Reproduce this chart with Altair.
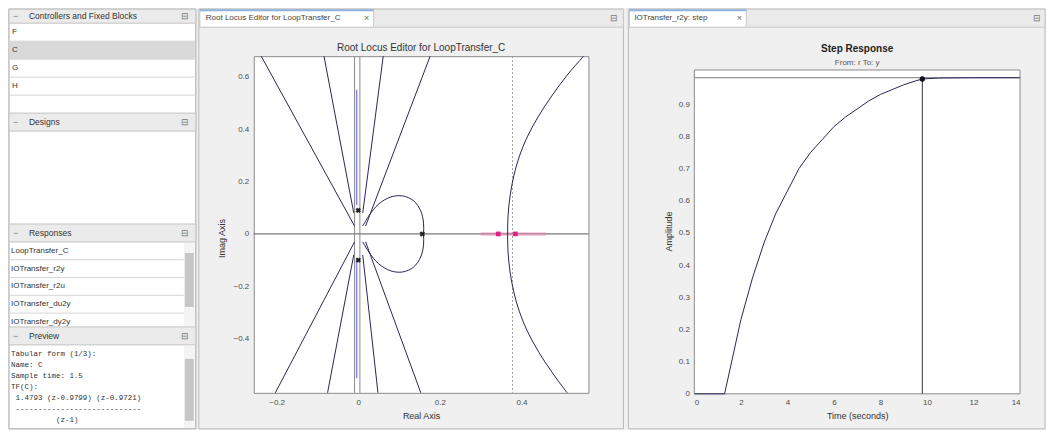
import altair as alt
import pandas as pd

FONT = "Liberation Sans"
MONO = "Liberation Mono"

# ---------------- sidebar texts ----------------
ctrl_header = "Controllers and Fixed Blocks"
ctrl_items = ["F", "C", "G", "H"]
designs_header = "Designs"
responses_header = "Responses"
response_items = ["LoopTransfer_C", "IOTransfer_r2y", "IOTransfer_r2u", "IOTransfer_du2y", "IOTransfer_dy2y"]
preview_header = "Preview"
preview_lines = ["Tabular form (1/3):", "Name: C", "Sample time: 1.5", "TF(C):",
                 " 1.4793 (z-0.9799) (z-0.9721)", " ----------------------------", "          (z-1)"]
rl_tab = "Root Locus Editor for LoopTransfer_C"
step_tab = "IOTransfer_r2y: step"

# ---------------- root locus data ----------------
rl_title = "Root Locus Editor for LoopTransfer_C"
rl_x_dom = [-0.256, 0.564]
rl_y_dom = [-0.606, 0.678]
rl_x_ticks = [-0.2, 0, 0.2, 0.4]
rl_y_ticks = [-0.4, -0.2, 0, 0.2, 0.4, 0.6]

asym_upper_x = [[-0.009, -0.278], [-0.011, -0.104], [0.011, 0.075], [0.018, 0.204]]
asym_upper_y = [[0.03, 0.792], [0.08, 0.842], [0.08, 0.842], [0.03, 0.792]]
asym_lower_x = [[-0.009, -0.266], [-0.011, -0.104], [0.011, 0.065], [0.018, 0.197]]
asym_lower_y = [[-0.03, -0.792], [-0.08, -0.842], [-0.08, -0.842], [-0.03, -0.792]]
loop_x = [0.011, 0.026, 0.050, 0.080, 0.109, 0.136, 0.153, 0.160, 0.160,
          0.160, 0.153, 0.136, 0.109, 0.080, 0.050, 0.026, 0.011]
loop_y = [0.030, 0.069, 0.114, 0.141, 0.145, 0.126, 0.088, 0.042, 0.0,
          -0.042, -0.088, -0.126, -0.145, -0.141, -0.114, -0.069, -0.030]
arc_x = [0.574, 0.552, 0.510, 0.474, 0.442, 0.415, 0.395, 0.381, 0.372, 0.367, 0.366,
         0.367, 0.372, 0.381, 0.395, 0.415, 0.442, 0.474, 0.510, 0.552, 0.574]
arc_y = [0.716, 0.678, 0.602, 0.526, 0.450, 0.373, 0.297, 0.221, 0.145, 0.069, 0.0,
         -0.069, -0.145, -0.221, -0.297, -0.373, -0.450, -0.526, -0.602, -0.678, -0.716]
blue_x = [[-0.004, -0.004], [-0.004, -0.004]]
blue_y = [[0.11, 0.55], [-0.10, -0.55]]
gray_vlines = [-0.009, 0.004]
dotted_vline = 0.378
pink_x = [0.30, 0.46]
pole_x = [0.157, 0.0, 0.0]
pole_y = [0.0, 0.09, -0.10]
cl_x = [0.343, 0.385]
cl_y = [0.0, 0.0]

# ---------------- step response data ----------------
step_title = "Step Response"
step_sub = "From: r  To: y"
step_t = [0, 1.3, 2, 2.5, 3, 3.5, 4, 4.5, 5, 5.5, 6, 6.5, 7, 7.5, 8, 8.5, 9, 9.5, 9.8, 10.5, 12, 14]
step_y = [0, 0, 0.23, 0.36, 0.47, 0.56, 0.63, 0.70, 0.75, 0.79, 0.83, 0.86, 0.885, 0.91,
          0.93, 0.945, 0.96, 0.972, 0.978, 0.981, 0.982, 0.982]
step_x_ticks = [0, 2, 4, 6, 8, 10, 12, 14]
step_y_ticks = [0, 0.1, 0.2, 0.3, 0.4, 0.5, 0.6, 0.7, 0.8, 0.9]
step_x_dom = [0, 14]
step_y_dom = [0, 1.049]
frame_top = 1.006
steady_val = 0.982
settle_t = 9.8
settle_y = 0.978

one = pd.DataFrame({"k": [0]})
LINE = "#26265a"


# ---------------- chrome helpers (GUI decoration, pixel layout) ----------------
def cbox(o, x1, y1, x2, y2, fill="transparent", stroke="transparent", sw=1):
    return alt.Chart(one).mark_rect(fill=fill, stroke=stroke, strokeWidth=sw).encode(
        x=alt.value(x1 - o[0]), x2=alt.value(x2 - o[0]),
        y=alt.value(y1 - o[1]), y2=alt.value(y2 - o[1]))


def chline(o, x1, x2, y, color="#d6d6d6"):
    return alt.Chart(one).mark_rule(color=color, strokeWidth=1).encode(
        x=alt.value(x1 - o[0]), x2=alt.value(x2 - o[0]), y=alt.value(y - o[1]))


def ctext(o, x, y, s, size=8, color="#333333", align="left", weight="normal", font=FONT):
    return alt.Chart(one).mark_text(text=s, align=align, baseline="middle", fontSize=size,
                                    color=color, fontWeight=weight, font=font).encode(
        x=alt.value(x - o[0]), y=alt.value(y - o[1]))


# ---------------- sidebar ----------------
SB = (8, 55)
HDR = "#ebebeb"
sb_layers = [cbox(SB, 8, 8, 195, 428, fill="white", stroke="#a6a6a6")]
headers = [(8, 22, ctrl_header), (112, 130, designs_header), (223, 241, responses_header),
           (326, 344, preview_header)]
for (y1, y2, name) in headers:
    sb_layers.append(cbox(SB, 8, y1, 195, y2, fill=HDR, stroke="#c4c4c4"))
    sb_layers.append(ctext(SB, 12, (y1 + y2) / 2, "−", size=9, color="#777777"))
    sb_layers.append(ctext(SB, 28, (y1 + y2) / 2, name, size=8.5, color="#333333"))
    sb_layers.append(ctext(SB, 184, (y1 + y2) / 2, "⊟", size=9, color="#777777", align="center"))
row_h = 18
sb_layers.append(cbox(SB, 9, 22 + row_h, 194, 22 + 2 * row_h, fill="#d9d9d9"))
for i, name in enumerate(ctrl_items):
    top = 22 + i * row_h
    sb_layers.append(chline(SB, 8, 195, top + row_h))
    sb_layers.append(ctext(SB, 11, top + row_h / 2, name, size=8, color="#333333"))
resp_h = 17.8
for i, name in enumerate(response_items):
    top = 241 + i * resp_h
    if i < len(response_items) - 1:
        sb_layers.append(chline(SB, 8, 183, top + resp_h))
    sb_layers.append(ctext(SB, 10, top + resp_h / 2, name, size=8, color="#333333"))
sb_layers.append(cbox(SB, 183, 242, 194, 325, fill="#f4f4f4"))
sb_layers.append(cbox(SB, 184, 252, 193, 306, fill="#c6c6c6"))
sb_layers.append(cbox(SB, 183, 345, 194, 427, fill="#f4f4f4"))
sb_layers.append(cbox(SB, 184, 358, 193, 420, fill="#c6c6c6"))
CHAR_W = 7.5 * 0.6
for i, line in enumerate(preview_lines):
    indent = (len(line) - len(line.lstrip(" "))) * CHAR_W
    sb_layers.append(ctext(SB, 10 + indent, 353 + i * 11, line.strip(), size=7.5,
                           color="#333333", font=MONO))
sidebar = alt.layer(*sb_layers).properties(width=139, height=337,
                                           view=alt.ViewBackground(stroke="transparent"))

# ---------------- root locus ----------------
RO = (253, 55)
rl_xaxis = alt.Axis(values=rl_x_ticks, format="~g", title="Real Axis", labelPadding=6,
                    titlePadding=5, zindex=1)
rl_yaxis = alt.Axis(values=rl_y_ticks, format="~g", title="Imag Axis", labelPadding=5,
                    titlePadding=6, zindex=1, titleY=182)
RXS = alt.Scale(domain=rl_x_dom, nice=False, zero=False)
RYS = alt.Scale(domain=rl_y_dom, nice=False, zero=False)


def RX(f="x"):
    return alt.X(f"{f}:Q", scale=RXS, axis=rl_xaxis)


def RY(f="y"):
    return alt.Y(f"{f}:Q", scale=RYS, axis=rl_yaxis)


rows = []
bid = 0
for xs_list, ys_list in [(asym_upper_x, asym_upper_y), (asym_lower_x, asym_lower_y)]:
    for xs, ys in zip(xs_list, ys_list):
        for i, (a, b) in enumerate(zip(xs, ys)):
            rows.append({"b": bid, "i": i, "x": a, "y": b})
        bid += 1
for xs, ys in [(loop_x, loop_y), (arc_x, arc_y)]:
    for i, (a, b) in enumerate(zip(xs, ys)):
        rows.append({"b": bid, "i": i, "x": a, "y": b})
    bid += 1
branch_df = pd.DataFrame(rows)

blue_rows = []
for k, (xs, ys) in enumerate(zip(blue_x, blue_y)):
    for i, (a, b) in enumerate(zip(xs, ys)):
        blue_rows.append({"b": k, "i": i, "x": a, "y": b})
blue_df = pd.DataFrame(blue_rows)

rl_layers = [
    cbox(RO, 198, 8, 623, 428, stroke="#b9b9b9"),
    cbox(RO, 198, 8, 623, 26, fill=HDR, stroke="#c8c8c8"),
    cbox(RO, 199, 8, 373, 26, fill="white", stroke="#c8c8c8"),
    cbox(RO, 199, 8, 373, 10, fill="#8fb3dc"),
    ctext(RO, 205, 17, rl_tab, size=8, color="#444444"),
    ctext(RO, 366, 17, "×", size=9, color="#666666", align="center"),
    ctext(RO, 614, 17, "⊟", size=9, color="#777777", align="center"),
    ctext(RO, 420.5, 47, rl_title, size=10, color="#333333", align="center"),
    alt.Chart(one).mark_rule(color="#555555", strokeWidth=1).encode(
        y=alt.Y(datum=0, scale=RYS, axis=rl_yaxis)),
]
for gx in gray_vlines:
    rl_layers.append(alt.Chart(one).mark_rule(color="#8a8a8a", strokeWidth=1).encode(
        x=alt.X(datum=gx, scale=RXS, axis=rl_xaxis)))
rl_layers.append(alt.Chart(one).mark_rule(color="#a0a0a0", strokeWidth=1, strokeDash=[2, 2]).encode(
    x=alt.X(datum=dotted_vline, scale=RXS, axis=rl_xaxis)))
rl_layers.append(alt.Chart(pd.DataFrame({"x": pink_x, "y": [0, 0], "i": [0, 1]})).mark_line(
    color="#ff6fa8", strokeWidth=4, opacity=0.35).encode(x=RX(), y=RY(), order="i:Q"))
rl_layers.append(alt.Chart(blue_df).mark_line(color="#8585ff", strokeWidth=1.5, clip=True).encode(
    x=RX(), y=RY(), detail="b:N", order="i:Q"))
rl_layers.append(alt.Chart(branch_df).mark_line(color=LINE, strokeWidth=1, clip=True,
                                                interpolate="catmull-rom").encode(
    x=RX(), y=RY(), detail="b:N", order="i:Q"))
rl_layers.append(alt.Chart(pd.DataFrame({"x": pole_x, "y": pole_y})).mark_point(
    shape="cross", angle=45, filled=True, size=30, color="#222222", opacity=1).encode(x=RX(), y=RY()))
rl_layers.append(alt.Chart(pd.DataFrame({"x": cl_x, "y": cl_y})).mark_square(
    size=22, color="#e0218a", opacity=1).encode(x=RX(), y=RY()))

rl = alt.layer(*rl_layers).properties(
    width=335, height=337,
    view=alt.ViewBackground(fill="white", stroke="#8c8c8c"))

# ---------------- step response ----------------
SO = (694, 55)
st_xaxis = alt.Axis(values=step_x_ticks, format="d", title="Time (seconds)", labelPadding=5,
                    titlePadding=5, zindex=1)
st_yaxis = alt.Axis(values=step_y_ticks, format="~g", title="Amplitude", labelPadding=5,
                    titlePadding=5, zindex=1, titleY=175)
SXS = alt.Scale(domain=step_x_dom, nice=False, zero=False)
SYS = alt.Scale(domain=step_y_dom, nice=False, zero=False)


def SX(f="t"):
    return alt.X(f"{f}:Q", scale=SXS, axis=st_xaxis)


def SY(f="amp"):
    return alt.Y(f"{f}:Q", scale=SYS, axis=st_yaxis)


st_layers = [
    cbox(SO, 628, 8, 1045, 428, stroke="#b9b9b9"),
    cbox(SO, 628, 8, 1045, 26, fill=HDR, stroke="#c8c8c8"),
    cbox(SO, 629, 8, 746, 26, fill="white", stroke="#c8c8c8"),
    cbox(SO, 629, 8, 746, 10, fill="#8fb3dc"),
    ctext(SO, 634, 17, step_tab, size=8, color="#444444"),
    ctext(SO, 739, 17, "×", size=9, color="#666666", align="center"),
    ctext(SO, 1037, 17, "⊟", size=9, color="#777777", align="center"),
    alt.Chart(pd.DataFrame({"t": [step_x_dom[0]], "t2": [step_x_dom[1]], "amp": [0.0], "amp2": [frame_top]}))
    .mark_rect(fill="white", stroke="#8c8c8c", strokeWidth=1).encode(x=SX(), x2="t2:Q", y=SY(), y2="amp2:Q"),
    alt.Chart(pd.DataFrame({"t": [step_x_dom[0]], "t2": [step_x_dom[1]], "amp": [steady_val]}))
    .mark_rule(color="#777777", strokeWidth=1).encode(x=SX(), x2="t2:Q", y=SY()),
    alt.Chart(pd.DataFrame({"t": [settle_t], "amp": [0.0], "amp2": [settle_y]}))
    .mark_rule(color="#333333", strokeWidth=1).encode(x=SX(), y=SY(), y2="amp2:Q"),
    alt.Chart(pd.DataFrame({"t": step_t, "amp": step_y, "i": list(range(len(step_t)))}))
    .mark_line(color=LINE, strokeWidth=1).encode(x=SX(), y=SY(), order="i:Q"),
    alt.Chart(pd.DataFrame({"t": [settle_t], "amp": [settle_y]}))
    .mark_circle(size=28, color="#111111", opacity=1).encode(x=SX(), y=SY()),
    ctext(SO, 857, 48, step_title, size=10, color="#222222", align="center", weight="bold"),
    ctext(SO, 857, 62, step_sub, size=8, color="#555555", align="center"),
]
step = alt.layer(*st_layers).properties(width=326, height=338,
                                        view=alt.ViewBackground(stroke="transparent"))

chart = alt.hconcat(sidebar, rl, step, spacing=106, bounds="flush").properties(padding=0).configure(
    background="#f0f0f0", font=FONT
).configure_axis(
    labelFont=FONT, titleFont=FONT, labelFontSize=8, titleFontSize=9, labelColor="#4d4d4d",
    titleColor="#333333", titleFontWeight="normal", ticks=False, domain=False, grid=False
)

chart.save("out.html", embed_options={"renderer": "svg", "actions": False})
